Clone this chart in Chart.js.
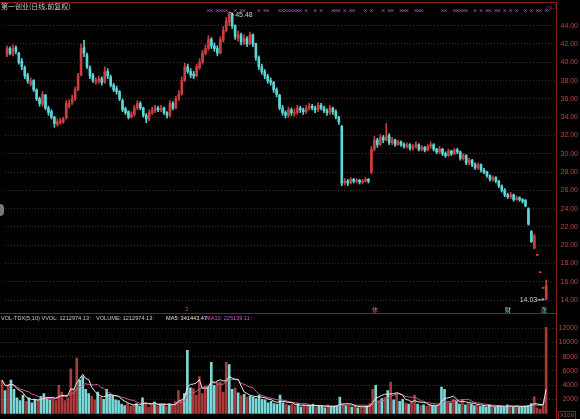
<!DOCTYPE html>
<html>
<head>
<meta charset="utf-8">
<script src="https://cdn.jsdelivr.net/npm/chart.js@4/dist/chart.umd.min.js"></script>
<style>
html, body { margin: 0; padding: 0; background: #000; width: 580px; height: 419px; overflow: hidden; }
#wrap { position: relative; width: 580px; height: 419px; font-family: "Liberation Sans", Arial, sans-serif; }
.pane { position: absolute; left: 0; }
.t { position: absolute; white-space: nowrap; font-size: 5.6px; line-height: 7px; }
.hl { position: absolute; background: #8c1c1c; height: 1px; }
.vl { position: absolute; background: #8c1c1c; width: 1px; }
</style>
</head>
<body>
<div id="wrap">
  <div class="pane" style="top:0"><canvas id="price" width="580" height="313"></canvas></div>
  <div class="pane" style="top:314px"><canvas id="vol" width="580" height="105"></canvas></div>

  <div class="hl" style="left:0; top:2px; width:557px"></div>
  <div class="hl" style="left:0; top:313px; width:557px"></div>
  <div class="vl" style="left:556px; top:2px; height:417px"></div>

  <div class="t" style="left:1px; top:3px; color:#c8c8c8; font-family:'Noto Sans CJK SC'; font-size:7px">第一创业(日线,前复权)</div>
  <div class="t" style="left:546px; top:4px; color:#a05ab4; font-size:7px">◇</div>
  <div class="t" style="left:551px; top:3px; color:#b03030; font-size:8px">□</div>
  <div style="position:absolute; left:0; top:204px; width:4px; height:12px; background:#777; border-radius:0 6px 6px 0"></div>

  <div class="t" style="left:1px; top:315px; color:#c8c8c8">VOL-TDX(5,10) VVOL: 1212974.13<span style="color:#d03030">↑</span></div>
  <div class="t" style="left:96px; top:315px; color:#c8c8c8">VOLUME: 1212974.13<span style="color:#d03030">↑</span></div>
  <div class="t" style="left:166px; top:315px; color:#e0e0e0">MA5: 341443.47<span style="color:#d03030">↑</span></div>
  <div class="t" style="left:206px; top:315px; color:#d050d0">MA10: 225139.11<span style="color:#d03030">↑</span></div>

  <div class="t" style="left:185px; top:306px; color:#e04040; font-size:6px">3</div>
  <div class="t" style="left:372px; top:306px; color:#e07070; font-family:'Noto Sans CJK SC'; font-size:6px">休</div>
  <div class="t" style="left:505px; top:306px; color:#9ad0e0; font-family:'Noto Sans CJK SC'; font-size:6px">财</div>
  <div class="t" style="left:541px; top:306px; color:#70e0c0; font-family:'Noto Sans CJK SC'; font-size:6px">涨</div>
  <div class="t" style="left:558px; top:411px; color:#b84848; border:1px solid #8c1c1c; padding:0 1px; font-size:6px">X100</div>
</div>
<script>
// daily candles, oldest first (price, qfq)
const opens = [
  40.8,41.5,40.9,41.6,41.0,40.1,39.4,38.6,37.6,38.0,
  37.0,36.0,35.4,36.4,35.0,34.6,34.0,33.2,33.4,33.5,
  33.9,35.2,35.6,36.0,37.0,38.6,41.6,40.8,39.4,38.6,
  37.8,37.9,38.2,37.8,39.0,38.4,37.5,37.1,36.8,35.8,
  34.9,34.6,34.0,34.3,35.0,35.5,35.0,34.2,33.8,34.5,
  34.7,35.0,34.8,35.0,34.5,34.2,35.5,35.0,36.0,36.5,
  38.0,39.5,39.0,38.7,38.5,39.4,40.0,41.0,41.5,42.5,
  41.8,41.5,41.0,42.4,43.5,44.4,45.2,44.0,42.6,43.0,
  42.2,42.6,42.0,43.0,42.0,40.5,39.5,39.0,38.5,38.0,
  37.8,37.0,36.4,35.0,34.5,34.2,34.8,34.4,34.5,35.0,
  34.8,34.6,35.0,35.2,35.0,34.8,35.3,35.0,34.7,34.5,
  35.0,34.6,34.0,33.0,26.8,27.0,26.8,27.2,27.0,27.1,
  26.9,27.0,27.2,28.0,30.5,31.5,31.0,31.8,31.5,32.0,
  31.2,31.5,31.0,31.3,31.0,30.8,31.0,30.6,30.8,31.0,
  30.5,30.7,30.4,30.8,31.0,30.5,30.2,30.5,30.0,29.8,
  30.3,30.0,30.4,30.2,29.5,29.8,29.0,29.3,28.8,28.5,
  28.8,28.2,28.0,27.6,27.2,27.4,27.0,26.5,26.0,25.5,
  25.3,25.5,25.0,25.2,25.0,24.9,24.0,21.5,19.7,18.9,
  17.0,15.3,14.1
];
const highs = [
  41.8,41.7,41.9,41.8,41.1,40.4,39.6,38.8,38.3,38.1,
  37.1,36.2,36.8,36.5,35.2,34.8,34.1,33.8,33.9,34.0,
  35.8,35.9,36.4,37.3,38.8,42.0,42.4,41.0,39.6,38.8,
  38.3,38.5,38.4,39.5,39.3,38.6,37.7,37.4,36.9,36.0,
  35.1,34.7,34.6,35.3,35.8,35.7,35.1,34.4,34.8,35.1,
  35.3,35.2,35.3,35.1,34.6,35.8,35.7,36.3,36.9,38.4,
  39.9,39.8,39.3,39.0,39.8,40.4,41.3,41.9,42.9,42.7,
  42.1,41.8,42.8,43.9,44.9,45.48,45.4,44.1,43.4,43.2,
  43.0,42.8,43.3,43.1,42.1,40.7,39.8,39.2,38.7,38.3,
  37.9,37.2,36.5,35.3,34.7,35.1,35.0,34.9,35.3,35.2,
  35.0,35.3,35.5,35.4,35.2,35.6,35.5,35.2,34.9,35.3,
  35.1,34.8,34.1,33.1,27.3,27.2,27.4,27.3,27.3,27.2,
  27.2,27.4,27.3,30.8,31.9,31.7,32.1,32.0,33.3,32.2,
  31.8,31.6,31.5,31.4,31.2,31.2,31.1,31.0,31.3,31.1,
  30.9,30.8,31.0,31.3,31.1,30.6,30.8,30.6,30.2,30.5,
  30.4,30.6,30.6,30.3,30.0,29.9,29.5,29.4,29.0,29.0,
  28.9,28.4,28.1,27.7,27.6,27.5,27.1,26.6,26.2,25.7,
  25.8,25.6,25.4,25.3,25.1,25.0,24.1,21.6,21.2,18.9,
  17.0,15.3,16.2
];
const lows = [
  40.6,40.8,40.7,40.9,39.8,39.2,38.2,37.7,37.4,36.8,
  35.8,35.2,35.2,34.8,34.2,33.8,32.9,33.0,33.2,33.3,
  33.8,35.0,35.4,35.8,36.9,38.5,40.6,39.3,38.2,37.8,
  37.6,37.7,37.5,37.7,38.2,37.3,36.8,36.5,35.8,34.6,
  34.3,33.8,33.9,34.1,34.8,34.8,34.0,33.4,33.6,34.3,
  34.5,34.6,34.6,34.3,33.9,34.0,34.8,34.9,35.8,36.4,
  37.9,38.8,38.3,38.2,38.4,39.2,39.8,40.8,41.3,41.5,
  41.2,40.7,40.9,42.2,43.3,44.0,43.7,42.5,42.3,41.9,
  41.9,41.7,41.9,41.7,40.2,39.2,38.7,38.2,37.7,37.5,
  36.7,36.2,34.8,34.2,33.9,34.0,34.2,34.1,34.3,34.5,
  34.3,34.4,34.8,34.8,34.5,34.6,34.8,34.5,34.2,34.3,
  34.3,33.8,33.2,26.5,26.6,26.5,26.7,26.8,26.8,26.7,
  26.7,26.9,26.8,27.8,30.3,30.7,30.9,31.2,31.4,31.0,
  31.0,30.8,30.9,30.8,30.6,30.6,30.4,30.4,30.6,30.3,
  30.3,30.2,30.3,30.6,30.3,30.0,30.0,29.8,29.6,29.7,
  29.8,29.9,30.0,29.3,29.3,28.8,28.8,28.6,28.3,28.3,
  28.0,27.8,27.4,27.0,27.0,26.8,26.3,25.8,25.3,25.1,
  25.1,24.8,24.9,24.8,24.6,24.2,22.2,20.3,19.6,18.9,
  17.0,15.3,14.03
];
const closes = [
  41.5,41.0,41.5,41.2,40.0,39.5,38.5,38.0,38.0,37.0,
  36.0,35.5,36.5,35.0,34.5,34.0,33.3,33.5,33.6,33.8,
  35.5,35.5,36.0,37.0,38.5,41.5,41.0,39.5,38.5,38.0,
  38.0,38.2,37.8,39.0,38.5,37.5,37.0,36.8,36.0,34.8,
  34.5,34.0,34.3,35.0,35.5,35.0,34.2,33.8,34.5,34.8,
  35.0,34.8,35.0,34.5,34.2,35.5,35.0,36.0,36.5,38.0,
  39.5,39.0,38.6,38.5,39.5,40.0,41.0,41.5,42.5,41.8,
  41.5,41.0,42.5,43.5,44.5,45.3,44.0,42.8,43.0,42.2,
  42.6,42.0,43.0,42.0,40.5,39.5,39.0,38.5,38.0,37.8,
  37.0,36.5,35.0,34.5,34.2,34.8,34.5,34.5,35.0,34.8,
  34.6,35.0,35.2,35.0,34.8,35.3,35.0,34.7,34.5,35.0,
  34.6,34.0,33.5,26.8,27.0,26.8,27.2,27.0,27.1,26.9,
  27.0,27.2,27.0,30.5,31.5,31.0,31.8,31.5,32.0,31.2,
  31.5,31.0,31.3,31.0,30.8,31.0,30.6,30.8,31.0,30.5,
  30.7,30.4,30.8,31.0,30.5,30.2,30.5,30.0,29.8,30.3,
  30.0,30.4,30.2,29.5,29.8,29.0,29.3,28.8,28.5,28.8,
  28.2,28.0,27.6,27.2,27.4,27.0,26.5,26.0,25.5,25.3,
  25.5,25.0,25.2,25.0,24.8,24.3,22.3,20.4,21.0,18.9,
  17.0,15.3,15.6
];
// volume in units of 100 shares
const volumes = [
  4700,3200,3950,4700,3400,2200,1800,2600,1700,2200,
  1500,2000,1900,2400,2800,2200,1900,2000,1800,3950,
  3000,1800,2200,6300,3500,7800,4700,5200,3400,2800,
  2400,1900,3000,2300,2000,3400,2600,2500,1900,1800,
  1300,1100,1400,1000,1200,1400,1000,2200,1500,900,
  1300,1600,1100,1300,1200,1000,1400,1200,1700,3200,
  1900,2800,8900,3600,3500,2600,5200,2800,3700,3700,
  7200,3950,4400,4400,3000,7200,6900,3400,3600,2900,
  2500,2700,2300,2400,2300,2100,2600,2000,1900,1500,
  1700,1400,1300,2600,1500,1300,1100,1300,1000,1400,
  900,1200,1100,1000,1300,900,1100,1000,800,1200,
  900,1000,1100,2300,1300,1100,1000,900,1100,800,
  1000,900,1000,1400,3400,3950,1800,2100,2300,3200,
  4400,1900,2800,1700,2000,1500,1300,1600,2600,1300,
  1100,1200,1000,1300,1100,1000,1200,3700,3400,1600,
  1500,2000,1700,1300,2000,1200,1500,1300,1100,1200,
  1000,1100,900,1200,1000,900,1100,1000,900,1200,
  1000,900,1100,900,1000,1042,1100,1400,2342,800,
  600,1200,12129.74
];
const priceTicks = [44, 42, 40, 38, 36, 34, 32, 30, 28, 26, 24, 22, 20, 18, 16, 14];
const volumeTicks = [12000, 10000, 8000, 6000, 4000, 2000];
// candles carrying an info-mine marker on the top strip
const markerIdx = [68,69,71,72,73,74,77,79,80,85,87,88,92,93,94,95,96,97,98,99,101,104,106,
  110,111,112,114,116,117,121,123,127,129,130,133,134,135,138,139,140,147,148,151,152,153,154,
  155,158,160,162,163,165,166,168,170,172,175,177,179,180,182];

const UP = '#c8403f', DOWN = '#5cd6d6';
const VOL_UP = '#a83a3a', VOL_DOWN = '#7ad8d8';
const AXIS_TXT = '#b84848', GRID = 'rgba(120,70,70,0.6)';
const xMin = -0.67, xMax = 185.3;

const up = closes.map((c, i) => c >= opens[i]);
const candleColors = up.map(u => u ? UP : DOWN);
const volColors = up.map(u => u ? VOL_UP : VOL_DOWN);

function movingAvg(arr, n) {
  return arr.map((_, i) => {
    const s = arr.slice(Math.max(0, i - n + 1), i + 1);
    return s.reduce((a, b) => a + b, 0) / s.length;
  });
}

function yAxis(min, max, ticks, fmt) {
  return {
    position: 'right', min, max,
    afterBuildTicks: s => { s.ticks = ticks.map(v => ({ value: v })); },
    afterFit: s => { s.width = 22; },
    border: { display: false, dash: [1, 2] },
    grid: { color: GRID, drawTicks: false },
    ticks: { color: AXIS_TXT, font: { size: 7, family: 'Liberation Sans' }, padding: 0, crossAlign: 'far', callback: fmt }
  };
}
const xAxis = { type: 'linear', min: xMin, max: xMax, offset: false, display: false };

const extremes = {
  id: 'extremes',
  afterDatasetsDraw(chart) {
    const { ctx, scales: { x, y } } = chart;
    const hiIdx = highs.indexOf(Math.max(...highs));
    const loIdx = lows.indexOf(Math.min(...lows));
    ctx.save();
    ctx.font = '7px "Liberation Sans"';
    ctx.fillStyle = '#d0d0d0';
    ctx.strokeStyle = '#d0d0d0';
    ctx.lineWidth = 1;
    ctx.textBaseline = 'middle';
    let px = x.getPixelForValue(hiIdx), py = y.getPixelForValue(highs[hiIdx]);
    ctx.beginPath(); ctx.moveTo(px + 0.5, py); ctx.lineTo(px + 5, py + 3); ctx.stroke();
    ctx.textAlign = 'left';
    ctx.fillText(highs[hiIdx].toFixed(2), px + 6, py + 3);
    px = x.getPixelForValue(loIdx); py = y.getPixelForValue(lows[loIdx]);
    ctx.beginPath(); ctx.moveTo(px - 2, py); ctx.lineTo(px - 9, py); ctx.stroke();
    ctx.beginPath(); ctx.moveTo(px - 2, py); ctx.lineTo(px - 4, py - 2); ctx.stroke();
    ctx.textAlign = 'right';
    ctx.fillText(lows[loIdx].toFixed(2), px - 9, py);
    ctx.restore();
  }
};

new Chart(document.getElementById('price'), {
  type: 'bar',
  data: {
    datasets: [
      { data: closes.map((c, i) => ({ x: i, y: [opens[i], c] })), backgroundColor: candleColors,
        barThickness: 2, minBarLength: 1, grouped: false, order: 1 },
      { data: closes.map((c, i) => ({ x: i, y: [lows[i], highs[i]] })), backgroundColor: candleColors,
        barThickness: 1, grouped: false, order: 2 },
      { type: 'line', data: markerIdx.map(i => ({ x: i, y: 45.65 })), showLine: false,
        pointStyle: 'crossRot', pointRadius: 1.6, borderColor: '#a05ab4', borderWidth: 1, order: 0 }
    ]
  },
  options: {
    animation: false, responsive: false,
    layout: { padding: { top: 3, bottom: 2, left: 0, right: 2 } },
    plugins: { legend: { display: false }, tooltip: { enabled: false } },
    scales: { x: xAxis, y: yAxis(13.14, 46.26, priceTicks, v => v.toFixed(2)) }
  },
  plugins: [extremes]
});

const ma5 = movingAvg(volumes, 5), ma10 = movingAvg(volumes, 10);
new Chart(document.getElementById('vol'), {
  type: 'bar',
  data: {
    datasets: [
      { type: 'line', data: ma5.map((v, i) => ({ x: i, y: v })), borderColor: '#ecebd8', borderWidth: 1, pointRadius: 0, order: 0 },
      { type: 'line', data: ma10.map((v, i) => ({ x: i, y: v })), borderColor: '#c4619e', borderWidth: 1, pointRadius: 0, order: 1 },
      { data: volumes.map((v, i) => ({ x: i, y: v })), backgroundColor: volColors, barThickness: 2, order: 2 }
    ]
  },
  options: {
    animation: false, responsive: false,
    layout: { padding: { top: 0, bottom: 0, left: 0, right: 2 } },
    plugins: { legend: { display: false }, tooltip: { enabled: false } },
    scales: { x: xAxis, y: yAxis(-200, 13430, volumeTicks, v => String(v)) }
  }
});
</script>
</body>
</html>
